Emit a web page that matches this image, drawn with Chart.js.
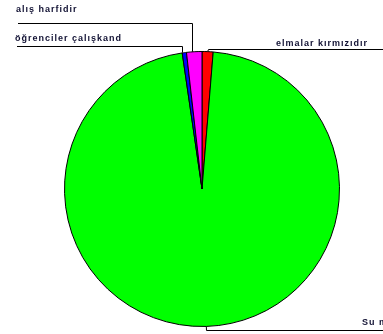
<!DOCTYPE html>
<html lang="tr">
<head>
<meta charset="UTF-8">
<title>Pasta grafik</title>
<script src="https://cdn.jsdelivr.net/npm/chart.js"></script>
<style>
  html, body { margin: 0; padding: 0; background: #fff; }
  #wrap { width: 383px; height: 334px; }
</style>
</head>
<body>
<div id="wrap"><canvas id="myChart" width="383" height="334"></canvas></div>
<script>
    // veriler (saat 12'den saat yönünde)
    const labels = ["elmalar kırmızıdır", "Su mavidir", "öğrenciler çalışkand", "alış harfidir"];
    const values = [13, 964, 5, 18];
    const colors = ["#ff0000", "#00ff00", "#0000ff", "#ff00ff"];

    // etiket yerleri: metin konumu ve yatay çizginin yüksekliği
    const labelPos = [
        { tx: 276, ty: 44, ly: 49, side: "right" },
        { tx: 362, ty: 323, ly: 330, side: "right" },
        { tx: 15, ty: 39, ly: 46, side: "left" },
        { tx: 16, ty: 10, ly: 23, side: "left" }
    ];

    const leaderLabels = {
        id: "leaderLabels",
        afterDatasetsDraw(chart) {
            const ctx = chart.ctx;
            const arcs = chart.getDatasetMeta(0).data;
            ctx.save();
            ctx.font = "bold 9px 'Liberation Sans', Arial, sans-serif";
            ctx.letterSpacing = "1px";
            ctx.textBaseline = "middle";
            ctx.fillStyle = "#111133";
            ctx.strokeStyle = "#000";
            ctx.lineWidth = 1;
            arcs.forEach((arc, i) => {
                const p = labelPos[i];
                const mid = (arc.startAngle + arc.endAngle) / 2;
                const ex = arc.x + Math.cos(mid) * arc.outerRadius;
                const ey = arc.y + Math.sin(mid) * arc.outerRadius;
                ctx.fillText(labels[i], p.tx, p.ty);
                ctx.beginPath();
                if (p.side === "left") {
                    ctx.moveTo(p.tx + 2, p.ly + 0.5);
                    ctx.lineTo(Math.round(ex) - 1.5, p.ly + 0.5);
                    ctx.lineTo(Math.round(ex) - 1.5, ey);
                } else {
                    ctx.moveTo(ex, ey);
                    ctx.lineTo(Math.round(ex) + 0.5, p.ly + 0.5);
                    ctx.lineTo(383, p.ly + 0.5);
                }
                ctx.stroke();
            });
            ctx.restore();
        }
    };

    new Chart(document.getElementById("myChart"), {
        type: "pie",
        data: {
            labels: labels,
            datasets: [{
                data: values,
                backgroundColor: colors,
                borderColor: "#000",
                borderWidth: 1
            }]
        },
        options: {
            responsive: false,
            animation: false,
            layout: { padding: { top: 51, bottom: 7, left: 64, right: 43 } },
            plugins: {
                legend: { display: false },
                tooltip: { enabled: false }
            }
        },
        plugins: [leaderLabels]
    });
</script>
</body>
</html>
